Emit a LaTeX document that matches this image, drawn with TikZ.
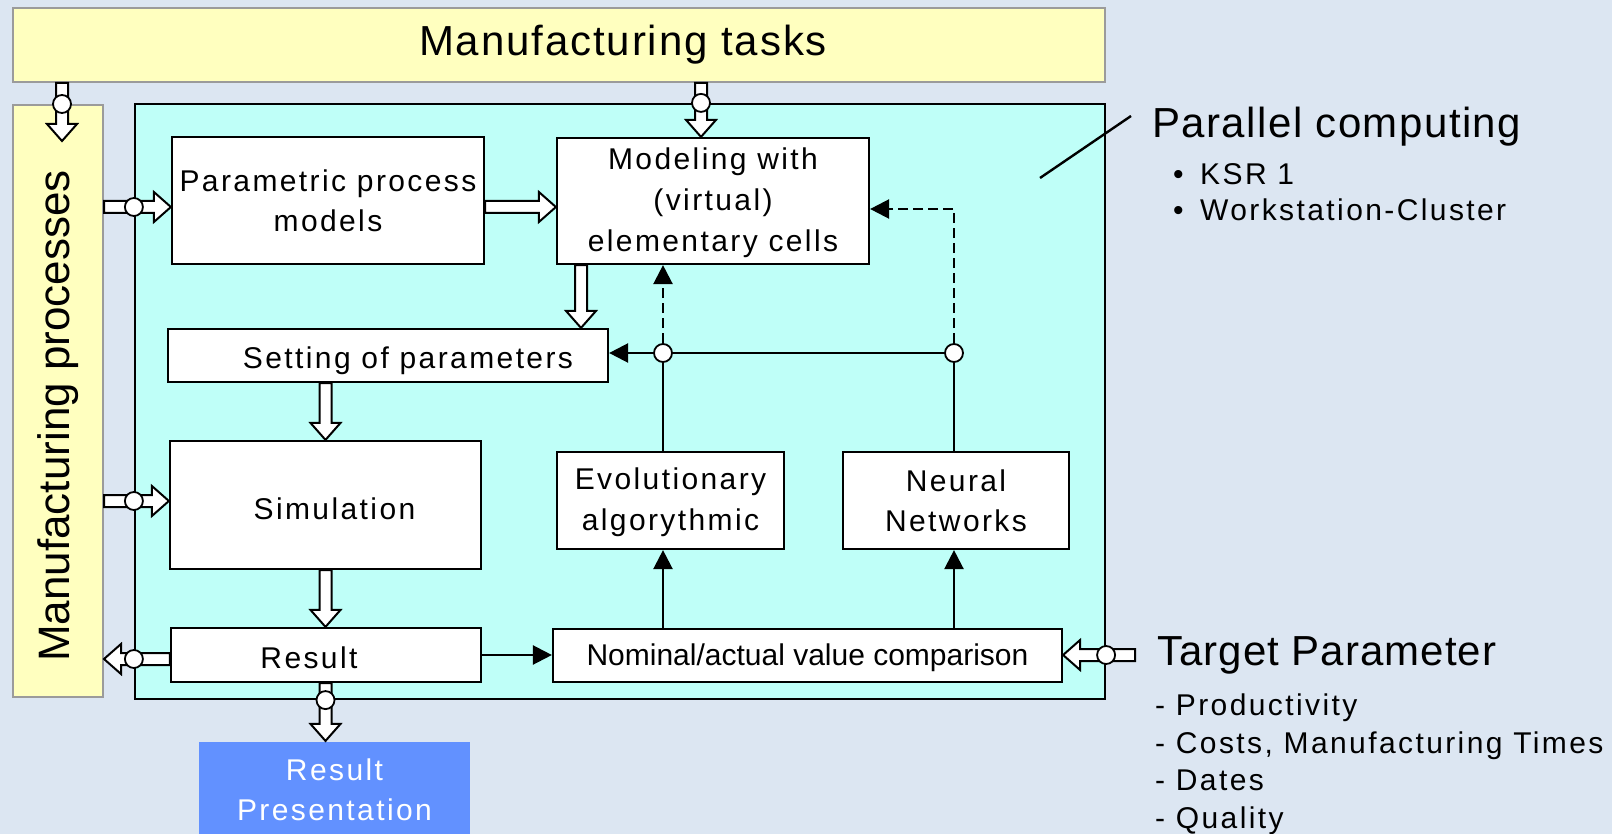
\documentclass[tikz,border=0pt]{standalone}
\usepackage{fontspec}
\setmainfont{Liberation Sans}
\usetikzlibrary{calc,arrows.meta}
\definecolor{bgc}{RGB}{220,230,242}
\definecolor{yelc}{RGB}{255,255,191}
\definecolor{ybord}{RGB}{155,155,155}
\definecolor{cync}{RGB}{191,255,248}
\definecolor{bluc}{RGB}{98,145,255}
\newcommand\bxfont{\fontsize{30}{40}\selectfont\addfontfeatures{LetterSpace=8}}
\newcommand\hdfont[1]{\fontsize{42}{50}\selectfont\addfontfeatures{LetterSpace=#1}}
\newcommand\txtdown[2]{\raisebox{-#1}[\height][\depth]{#2}}
\newcommand\blockarr[2]{%
  \coordinate (bah) at ($(#2)!17pt!(#1)$);
  \draw[barrow] ($(#1)!6pt!90:(#2)$) -- ($(bah)!6pt!90:(#2)$) -- ($(bah)!15pt!90:(#2)$) -- (#2) -- ($(bah)!15pt!-90:(#2)$) -- ($(bah)!6pt!-90:(#2)$) -- ($(#1)!6pt!-90:(#2)$) -- cycle;}
\tikzset{
  box/.style={draw, fill=white, line width=2.2pt, inner sep=0pt, align=center, font=\bxfont},
  barrow/.style={draw, fill=white, line width=2pt, line join=miter},
  dot/.style={circle, draw, fill=white, line width=1.8pt, minimum size=18pt, inner sep=0pt},
  conn/.style={line width=2.4pt},
  tip/.style={-{Triangle[length=19pt,width=19pt]}},
  dsh/.style={dash pattern=on 10pt off 5pt},
  txt/.style={anchor=base west, inner sep=0pt, font=\bxfont},
}
\begin{document}
\begin{tikzpicture}[x=1pt,y=-1pt]
\clip (0,0) rectangle (1612,834);
\fill[bgc] (0,0) rectangle (1612,834);
% frames
\node[draw=ybord, fill=yelc, line width=2pt, minimum width=1092pt, minimum height=74pt, inner sep=0pt, font=\hdfont{4.5}] (tasks) at (559,45) {\hspace*{128pt}Manufacturing tasks};
\node[draw=ybord, fill=yelc, line width=2pt, minimum width=90pt, minimum height=592pt, inner sep=0pt] (procs) at (58,401) {\rotatebox{90}{\fontsize{44}{50}\selectfont Manufacturing processes\hspace*{30pt}}};
\node[draw, fill=cync, line width=2.2pt, minimum width=970pt, minimum height=595pt, inner sep=0pt] (par) at (620,401.5) {};
% boxes
\node[box, minimum width=312pt, minimum height=127pt] (param) at (328,200.5) {Parametric process\\models};
\node[box, minimum width=312pt, minimum height=126pt] (model) at (713,201) {\txtdown{2pt}{Modeling with}\\[1pt]\txtdown{2pt}{(virtual)}\\[1pt]\txtdown{2pt}{elementary cells}};
\node[box, minimum width=440pt, minimum height=53pt] (setting) at (388,355.5) {\txtdown{5pt}{\hspace*{40pt}Setting of parameters}};
\node[box, minimum width=311pt, minimum height=128pt] (sim) at (325.5,505) {\txtdown{4pt}{\hspace*{18pt}Simulation}};
\node[box, minimum width=310pt, minimum height=54pt] (result) at (326,655) {\txtdown{3pt}{Result\hspace*{34pt}}};
\node[box, minimum width=227pt, minimum height=97pt] (evol) at (670.5,500.5) {\txtdown{2pt}{Evolutionary}\\[1pt]\txtdown{2pt}{algorythmic}};
\node[box, minimum width=226pt, minimum height=97pt] (neural) at (956,500.5) {Neural\\Networks};
\node[box, minimum width=509pt, minimum height=53pt, font=\fontsize{30}{36}\selectfont] (nominal) at (807.5,655.5) {\txtdown{2pt}{Nominal/actual value comparison}};
\node[box, draw=none, fill=bluc, text=white, minimum width=271pt, minimum height=96pt] (pres) at (334.5,790) {Result\\Presentation};
% helper coordinates
\coordinate (xA) at (62,0);
\coordinate (xB) at (701,0);
\coordinate (xC) at (581,0);
\coordinate (yA) at (0,207);
\coordinate (yB) at (0,501);
\coordinate (yC) at (0,659);
\coordinate (yD) at (0,209);
\coordinate (tgt) at (1135,655);
% block arrows
\coordinate (a1s) at (tasks.south -| xA);
\coordinate (a1e) at ($(procs.north -| xA)+(0,37)$);
\blockarr{a1s}{a1e}
\coordinate (a2s) at (tasks.south -| xB);
\coordinate (a2e) at (model.north -| xB);
\blockarr{a2s}{a2e}
\coordinate (a3s) at (procs.east |- yA);
\coordinate (a3e) at (param.west |- yA);
\blockarr{a3s}{a3e}
\coordinate (a4s) at (param.east |- yA);
\coordinate (a4e) at (model.west |- yA);
\blockarr{a4s}{a4e}
\coordinate (a5s) at (model.south -| xC);
\coordinate (a5e) at (setting.north -| xC);
\blockarr{a5s}{a5e}
\coordinate (a6s) at (setting.south -| sim.north);
\blockarr{a6s}{sim.north}
\coordinate (a7s) at (procs.east |- yB);
\coordinate (a7e) at (sim.west |- yB);
\blockarr{a7s}{a7e}
\coordinate (a8e) at (result.north -| sim.south);
\blockarr{sim.south}{a8e}
\coordinate (a9s) at (result.west |- yC);
\coordinate (a9e) at (procs.east |- yC);
\blockarr{a9s}{a9e}
\coordinate (a10s) at (result.south -| sim.south);
\coordinate (a10e) at (pres.north -| sim.south);
\blockarr{a10s}{a10e}
\coordinate (a11e) at (nominal.east |- tgt);
\blockarr{tgt}{a11e}
% thin connectors
\node[dot] (cL) at (663,353) {};
\node[dot] (cR) at (954,353) {};
\draw[conn, tip] (cL) -- (cL -| setting.east);
\draw[conn] (cL) -- (cR);
\draw[conn, dsh, tip] (cL) -- (cL |- model.south);
\draw[conn] (evol.north -| cL) -- (cL);
\draw[conn] (neural.north -| cR) -- (cR);
\draw[conn, dsh, tip] (cR) -- (cR |- yD) -- (model.east |- yD);
\draw[conn, tip] (nominal.north -| cL) -- (evol.south -| cL);
\draw[conn, tip] (nominal.north -| cR) -- (neural.south -| cR);
\draw[conn, tip] (result.east) -- (nominal.west |- result.east);
\coordinate (d1) at (1040,178);
\coordinate (d2) at (1131,116);
\draw[conn] (d1) -- (d2);
% junction circles
\node[dot] (j1) at (procs.north -| xA) {};
\node[dot] (j2) at (par.north -| xB) {};
\node[dot] (j3) at (par.west |- yA) {};
\node[dot] (j4) at (par.west |- yB) {};
\node[dot] (j5) at (par.west |- yC) {};
\node[dot] (j6) at (par.south -| sim.south) {};
\node[dot] (j7) at (par.east |- tgt) {};
% right-hand texts
\node[txt, font=\hdfont{3.5}] (pc) at (1152,138) {Parallel computing};
\node[txt] (b1) at (1173,185) {\makebox[27pt][l]{•}KSR 1};
\node[txt] (b2) at (1173,221) {\makebox[27pt][l]{•}Workstation-Cluster};
\node[txt, font=\hdfont{2.5}] (tp) at (1157,665) {Target Parameter};
\node[txt] (l1) at (1155,715) {- Productivity};
\node[txt] (l2) at (1155,753) {- Costs, Manufacturing Times};
\node[txt] (l3) at (1155,790) {- Dates};
\node[txt] (l4) at (1155,828) {- Quality};
\end{tikzpicture}
\end{document}
